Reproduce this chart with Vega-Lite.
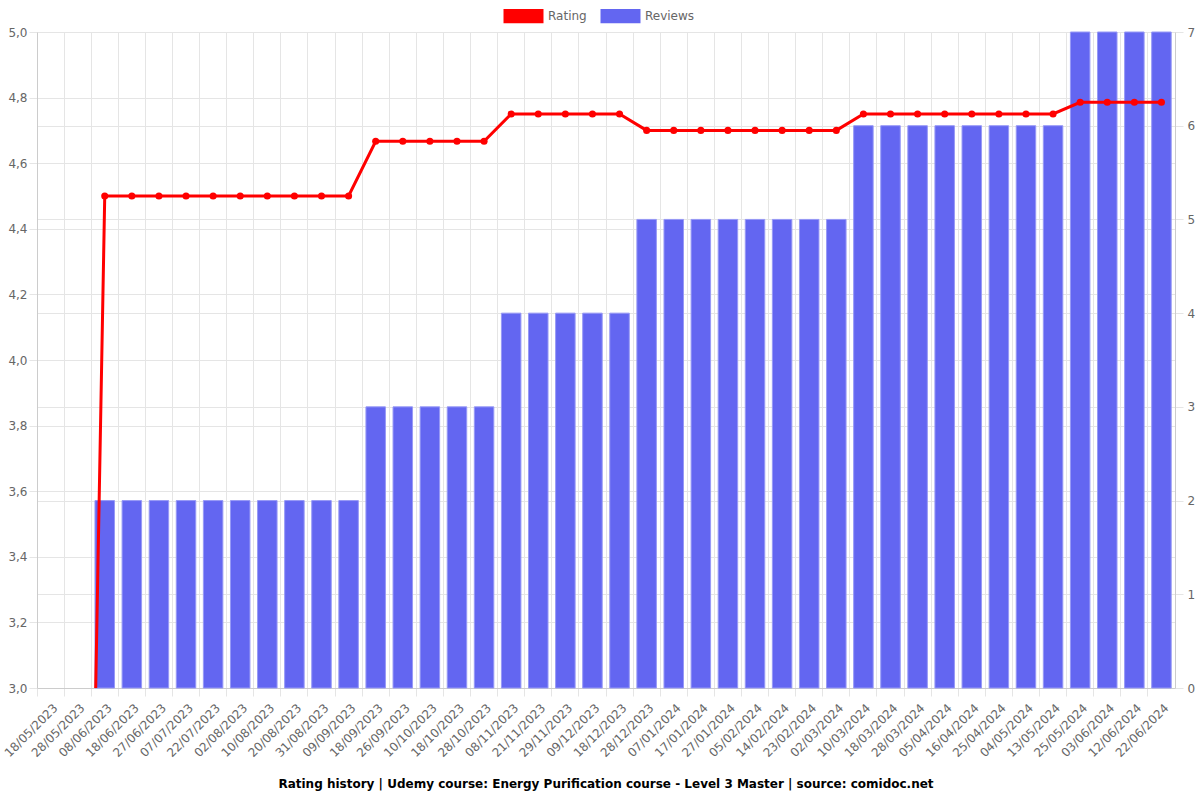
{
  "$schema": "https://vega.github.io/schema/vega-lite/v6.json",
  "width": 1138,
  "height": 656,
  "autosize": {"type": "none"},
  "padding": {"left": 37, "top": 32, "right": 25, "bottom": 112},
  "background": "white",
  "title": {
    "text": "Rating history | Udemy course: Energy Purification course - Level 3 Master | source: comidoc.net",
    "orient": "bottom",
    "anchor": "middle",
    "fontSize": 12,
    "fontWeight": "bold",
    "font": "DejaVu Sans",
    "color": "#000000",
    "offset": 20
  },
  "config": {
    "view": {"stroke": null},
    "font": "DejaVu Sans",
    "axis": {
      "labelFont": "DejaVu Sans",
      "labelFontSize": 12,
      "labelColor": "#666666",
      "gridColor": "#e5e5e5",
      "tickColor": "#e5e5e5",
      "domainColor": "#cccccc",
      "tickSize": 8,
      "title": null
    }
  },
  "data": {
    "values": [
      {"date": "18/05/2023", "rating": 0, "reviews": 0},
      {"date": "28/05/2023", "rating": 0, "reviews": 0},
      {"date": "08/06/2023", "rating": 4.5, "reviews": 2},
      {"date": "18/06/2023", "rating": 4.5, "reviews": 2},
      {"date": "27/06/2023", "rating": 4.5, "reviews": 2},
      {"date": "07/07/2023", "rating": 4.5, "reviews": 2},
      {"date": "22/07/2023", "rating": 4.5, "reviews": 2},
      {"date": "02/08/2023", "rating": 4.5, "reviews": 2},
      {"date": "10/08/2023", "rating": 4.5, "reviews": 2},
      {"date": "20/08/2023", "rating": 4.5, "reviews": 2},
      {"date": "31/08/2023", "rating": 4.5, "reviews": 2},
      {"date": "09/09/2023", "rating": 4.5, "reviews": 2},
      {"date": "18/09/2023", "rating": 4.6667, "reviews": 3},
      {"date": "26/09/2023", "rating": 4.6667, "reviews": 3},
      {"date": "10/10/2023", "rating": 4.6667, "reviews": 3},
      {"date": "18/10/2023", "rating": 4.6667, "reviews": 3},
      {"date": "28/10/2023", "rating": 4.6667, "reviews": 3},
      {"date": "08/11/2023", "rating": 4.75, "reviews": 4},
      {"date": "21/11/2023", "rating": 4.75, "reviews": 4},
      {"date": "29/11/2023", "rating": 4.75, "reviews": 4},
      {"date": "09/12/2023", "rating": 4.75, "reviews": 4},
      {"date": "18/12/2023", "rating": 4.75, "reviews": 4},
      {"date": "28/12/2023", "rating": 4.7, "reviews": 5},
      {"date": "07/01/2024", "rating": 4.7, "reviews": 5},
      {"date": "17/01/2024", "rating": 4.7, "reviews": 5},
      {"date": "27/01/2024", "rating": 4.7, "reviews": 5},
      {"date": "05/02/2024", "rating": 4.7, "reviews": 5},
      {"date": "14/02/2024", "rating": 4.7, "reviews": 5},
      {"date": "23/02/2024", "rating": 4.7, "reviews": 5},
      {"date": "02/03/2024", "rating": 4.7, "reviews": 5},
      {"date": "10/03/2024", "rating": 4.75, "reviews": 6},
      {"date": "18/03/2024", "rating": 4.75, "reviews": 6},
      {"date": "28/03/2024", "rating": 4.75, "reviews": 6},
      {"date": "05/04/2024", "rating": 4.75, "reviews": 6},
      {"date": "16/04/2024", "rating": 4.75, "reviews": 6},
      {"date": "25/04/2024", "rating": 4.75, "reviews": 6},
      {"date": "04/05/2024", "rating": 4.75, "reviews": 6},
      {"date": "13/05/2024", "rating": 4.75, "reviews": 6},
      {"date": "25/05/2024", "rating": 4.7857, "reviews": 7},
      {"date": "03/06/2024", "rating": 4.7857, "reviews": 7},
      {"date": "12/06/2024", "rating": 4.7857, "reviews": 7},
      {"date": "22/06/2024", "rating": 4.7857, "reviews": 7}
    ]
  },
  "encoding": {
    "x": {
      "field": "date",
      "type": "nominal",
      "sort": null,
      "scale": {"paddingInner": 0, "paddingOuter": 0},
      "axis": {
        "labelAngle": -45,
        "bandPosition": 0,
        "labelOffset": 1.5,
        "grid": true,
        "labelPadding": 6
      }
    }
  },
  "layer": [
    {
      "mark": {"type": "bar", "width": {"band": 0.72}, "stroke": "#9799f6", "strokeWidth": 1},
      "encoding": {
        "y": {
          "field": "reviews",
          "type": "quantitative",
          "scale": {"domain": [0, 7], "nice": false},
          "axis": {"orient": "right", "values": [0, 1, 2, 3, 4, 5, 6, 7], "format": "d", "grid": true, "labelPadding": 4}
        },
        "strokeOpacity": {
          "condition": {"test": "datum.reviews > 0", "value": 1},
          "value": 0
        },
        "color": {
          "datum": "Reviews",
          "scale": {"domain": ["Rating", "Reviews"], "range": ["#ff0000", "#6366f1"]},
          "legend": {
            "orient": "none",
            "legendX": 472,
            "legendY": -30.5,
            "direction": "horizontal",
            "title": null,
            "symbolType": "M-1.4,-0.5H1.4V0.5H-1.4Z",
            "symbolSize": 816,
            "symbolStrokeWidth": 0,
            "labelFontSize": 12,
            "labelColor": "#666666",
            "columnPadding": 13,
            "labelOffset": 10,
            "encode": {"symbols": {"update": {"fill": {"scale": "color", "field": "value"}, "opacity": {"value": 1}}}}
          }
        }
      }
    },
    {
      "encoding": {
        "y": {
          "field": "rating",
          "type": "quantitative",
          "scale": {"domain": [3, 5], "nice": false, "zero": false},
          "axis": {
            "orient": "left",
            "values": [3, 3.2, 3.4, 3.6, 3.8, 4, 4.2, 4.4, 4.6, 4.8, 5],
            "labelExpr": "replace(format(datum.value, '.1f'), '.', ',')",
            "grid": true,
            "labelPadding": 2
          }
        },
        "color": {"datum": "Rating"}
      },
      "layer": [
        {"mark": {"type": "line", "strokeWidth": 3, "clip": true}},
        {"mark": {"type": "point", "filled": true, "size": 50, "opacity": 1, "clip": true}}
      ]
    }
  ],
  "resolve": {"scale": {"y": "independent"}}
}
